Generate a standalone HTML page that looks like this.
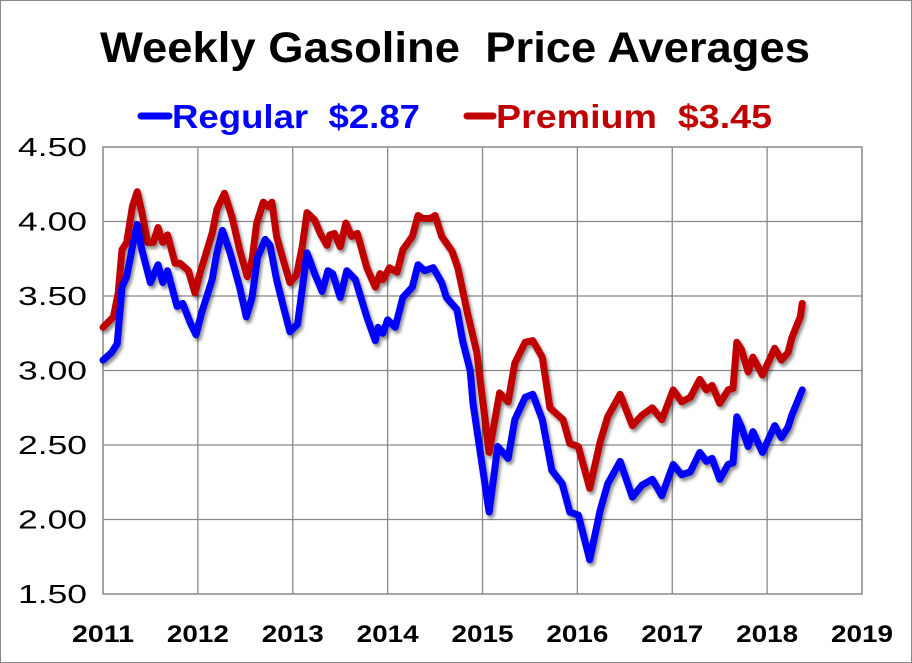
<!DOCTYPE html>
<html><head><meta charset="utf-8">
<style>
html,body{margin:0;padding:0;background:#fff;}
svg{display:block;font-family:"Liberation Sans",sans-serif;}
</style></head>
<body>
<svg id="chart" width="912" height="663" viewBox="0 0 912 663" xmlns="http://www.w3.org/2000/svg">
<defs>
<filter id="sh" x="-5%" y="-5%" width="110%" height="110%">
<feGaussianBlur in="SourceAlpha" stdDeviation="1.5"/>
<feOffset dx="2" dy="3" result="o"/>
<feComponentTransfer><feFuncA type="linear" slope="0.45"/></feComponentTransfer>
<feMerge><feMergeNode/><feMergeNode in="SourceGraphic"/></feMerge>
</filter>
</defs>
<rect x="0.5" y="0.5" width="911" height="662" fill="#fff" stroke="#888"/>
<text x="100" y="62" font-size="43" font-weight="bold" fill="#000" textLength="710" lengthAdjust="spacingAndGlyphs" xml:space="preserve">Weekly Gasoline  Price Averages</text>
<g>
<line x1="141" y1="116" x2="169" y2="116" stroke="#0000ff" stroke-width="7" stroke-linecap="round"/>
<text x="172" y="128" font-size="33" font-weight="bold" fill="#0000ff" textLength="248" lengthAdjust="spacingAndGlyphs" xml:space="preserve">Regular  $2.87</text>
<line x1="467" y1="116" x2="493" y2="116" stroke="#c00000" stroke-width="7" stroke-linecap="round"/>
<text x="496" y="128" font-size="33" font-weight="bold" fill="#c00000" textLength="276" lengthAdjust="spacingAndGlyphs" xml:space="preserve">Premium  $3.45</text>
</g>
<g id="grid"></g>
<g id="series"></g>
<g id="labels"></g>
</svg>
<script>
const yTicks = [1.5, 2.0, 2.5, 3.0, 3.5, 4.0, 4.5];
const xTicks = [2011, 2012, 2013, 2014, 2015, 2016, 2017, 2018, 2019];
const regYears = [2011.00,2011.09,2011.15,2011.20,2011.25,2011.31,2011.36,2011.41,2011.50,2011.58,2011.63,2011.68,2011.78,2011.84,2011.92,2011.98,2012.04,2012.15,2012.20,2012.26,2012.34,2012.44,2012.51,2012.57,2012.63,2012.71,2012.76,2012.83,2012.90,2012.97,2013.05,2013.15,2013.23,2013.31,2013.37,2013.42,2013.50,2013.57,2013.66,2013.78,2013.87,2013.90,2013.95,2014.00,2014.08,2014.16,2014.26,2014.32,2014.39,2014.48,2014.57,2014.62,2014.73,2014.79,2014.87,2014.90,2015.07,2015.16,2015.27,2015.34,2015.45,2015.53,2015.63,2015.73,2015.84,2015.92,2016.01,2016.13,2016.24,2016.32,2016.45,2016.58,2016.68,2016.79,2016.89,2017.01,2017.10,2017.19,2017.29,2017.36,2017.42,2017.50,2017.59,2017.64,2017.68,2017.73,2017.80,2017.85,2017.95,2018.08,2018.15,2018.22,2018.26,2018.37];
const regPrices = [3.07,3.12,3.18,3.56,3.63,3.83,3.98,3.81,3.59,3.71,3.59,3.67,3.43,3.45,3.32,3.24,3.39,3.61,3.79,3.94,3.79,3.56,3.36,3.49,3.76,3.88,3.84,3.61,3.43,3.26,3.31,3.79,3.65,3.53,3.67,3.65,3.49,3.67,3.61,3.36,3.20,3.29,3.25,3.34,3.29,3.49,3.56,3.71,3.67,3.69,3.59,3.49,3.41,3.20,3.00,2.78,2.05,2.49,2.41,2.67,2.82,2.84,2.67,2.33,2.24,2.05,2.03,1.73,2.06,2.24,2.39,2.15,2.23,2.27,2.16,2.37,2.30,2.32,2.45,2.39,2.41,2.27,2.37,2.38,2.69,2.62,2.49,2.59,2.45,2.63,2.55,2.62,2.70,2.87];
const premYears = [2011.00,2011.11,2011.16,2011.20,2011.25,2011.31,2011.36,2011.41,2011.47,2011.53,2011.58,2011.63,2011.68,2011.76,2011.81,2011.90,2011.97,2012.02,2012.15,2012.20,2012.28,2012.36,2012.44,2012.52,2012.57,2012.62,2012.69,2012.74,2012.78,2012.83,2012.90,2012.97,2013.04,2013.10,2013.15,2013.23,2013.29,2013.36,2013.39,2013.44,2013.50,2013.56,2013.62,2013.68,2013.78,2013.87,2013.92,2013.95,2014.02,2014.10,2014.16,2014.26,2014.32,2014.37,2014.45,2014.50,2014.57,2014.68,2014.74,2014.84,2014.94,2015.07,2015.18,2015.27,2015.34,2015.45,2015.53,2015.63,2015.71,2015.85,2015.92,2016.01,2016.13,2016.24,2016.32,2016.45,2016.58,2016.68,2016.79,2016.89,2017.01,2017.10,2017.19,2017.29,2017.36,2017.42,2017.50,2017.59,2017.64,2017.68,2017.73,2017.80,2017.85,2017.95,2018.08,2018.15,2018.22,2018.26,2018.35,2018.37];
const premPrices = [3.29,3.36,3.52,3.81,3.86,4.10,4.20,4.06,3.86,3.86,3.96,3.86,3.91,3.72,3.72,3.67,3.52,3.65,3.92,4.08,4.19,4.03,3.81,3.63,3.74,3.99,4.13,4.10,4.13,3.90,3.74,3.59,3.64,3.83,4.06,4.01,3.92,3.84,3.91,3.92,3.83,3.99,3.90,3.92,3.69,3.56,3.65,3.61,3.69,3.66,3.81,3.90,4.04,4.02,4.02,4.04,3.90,3.80,3.69,3.39,3.12,2.45,2.85,2.79,3.05,3.19,3.20,3.09,2.75,2.67,2.51,2.49,2.21,2.52,2.69,2.84,2.63,2.70,2.75,2.67,2.87,2.79,2.82,2.94,2.87,2.90,2.78,2.87,2.88,3.19,3.14,2.99,3.09,2.97,3.15,3.07,3.12,3.22,3.36,3.45];

const NS = "http://www.w3.org/2000/svg";
const L = 103, R = 862, T = 147, B = 594;
const xMin = 2011, xMax = 2019, yMin = 1.5, yMax = 4.5;
function xs(v){ return L + (v - xMin) / (xMax - xMin) * (R - L); }
function ys(v){ return B - (v - yMin) / (yMax - yMin) * (B - T); }
function mk(tag, attrs, parent){ const e = document.createElementNS(NS, tag); for (const k in attrs) e.setAttribute(k, attrs[k]); parent.appendChild(e); return e; }

const grid = document.getElementById('grid');
const labels = document.getElementById('labels');
yTicks.forEach(t => {
  const ln = mk('line', {x1:L, x2:R, y1:ys(t), y2:ys(t), stroke:'#888', 'stroke-width':1.3}, grid);
  
  
  const tx = mk('text', {x:18, y:ys(t)+9, 'font-size':26, fill:'#000', textLength:69, lengthAdjust:'spacingAndGlyphs'}, labels);
  tx.textContent = t.toFixed(2);
  
  
});
xTicks.forEach(t => {
  const ln = mk('line', {x1:xs(t), x2:xs(t), y1:T, y2:B, stroke:'#888', 'stroke-width':1.3}, grid);
  
  
  const tx = mk('text', {x:xs(t)-31, y:B+48, 'font-size':24, 'font-weight':'bold', fill:'#000', textLength:62, lengthAdjust:'spacingAndGlyphs'}, labels);
  tx.textContent = String(t);
  
  
});
const axis = mk('rect', {x:L, y:T, width:R-L, height:B-T, fill:'none', stroke:'#888', 'stroke-width':1.3}, grid);



const series = document.getElementById('series');
function drawLine(years, prices, color, name){
  const d = years.map((y, i) => (i ? 'L' : 'M') + xs(y).toFixed(1) + ' ' + ys(prices[i]).toFixed(1)).join(' ');
  const p = mk('path', {d:d, fill:'none', stroke:color, 'stroke-width':7, 'stroke-linejoin':'round', 'stroke-linecap':'round', filter:'url(#sh)'}, series);
  
  
}
drawLine(premYears, premPrices, '#c00000', 'premium-line');
drawLine(regYears, regPrices, '#0000ff', 'regular-line');
</script>
</body></html>
